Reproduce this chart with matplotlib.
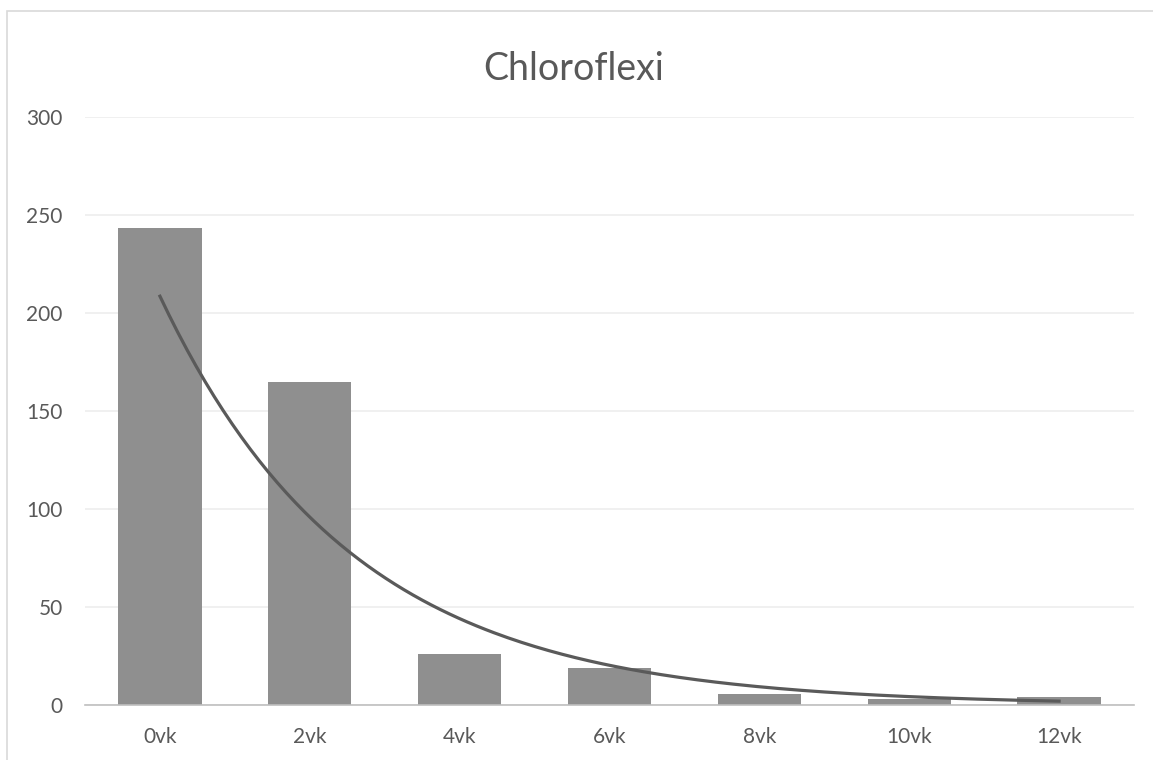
import numpy as np
import matplotlib.pyplot as plt
from matplotlib.patches import Rectangle

plt.rcParams['font.family'] = ['Lato', 'DejaVu Sans']

# data
weeks = ['0vk', '2vk', '4vk', '6vk', '8vk', '10vk', '12vk']
counts = [243.5, 165, 26, 19, 5.5, 3.2, 4]

W, H = 1153, 760
fig = plt.figure(figsize=(W / 100, H / 100), dpi=100)

# chart border (cropped at right / bottom like the reference)
fig.patches.append(Rectangle((7 / W, -0.1), 1.2, (H - 11) / H + 0.1,
                             transform=fig.transFigure, fill=False,
                             edgecolor='#d9d9d9', linewidth=1.2))

ax = fig.add_axes([85 / W, 55 / H, (1134 - 85) / W, (705 - 117) / H])

x = np.arange(len(weeks))
ax.bar(x, counts, width=0.555, color='#8f8f8f', zorder=2)

# exponential trendline, least squares on log(y) as Excel does
xi = x + 1
b, lna = np.polyfit(xi, np.log(counts), 1)
xs = np.linspace(xi[0], xi[-1], 200)
ax.plot(xs - 1, np.exp(lna + b * xs), color='#5a5a5a', linewidth=2.3, zorder=3)

ax.set_xlim(-0.5, len(weeks) - 0.5)
ax.set_ylim(0, 300)
ax.set_yticks(np.arange(0, 301, 50))
ax.set_xticks(x)
ax.set_xticklabels(weeks)
ax.yaxis.grid(True, color='#eeeeee', linewidth=1.2, zorder=0)
ax.set_axisbelow(True)

for s in ['top', 'right', 'left']:
    ax.spines[s].set_visible(False)
ax.spines['bottom'].set_color('#bfbfbf')
ax.spines['bottom'].set_linewidth(1.2)
ax.spines['bottom'].set_zorder(4)
ax.tick_params(axis='both', length=0, labelsize=15, colors='#595959')
ax.tick_params(axis='y', pad=16)
ax.tick_params(axis='x', pad=16)

fig.text(574 / W, (H - 80) / H, 'Chloroflexi', ha='center', va='baseline',
         fontsize=27, color='#595959')

fig.savefig('out.png', dpi=100)
